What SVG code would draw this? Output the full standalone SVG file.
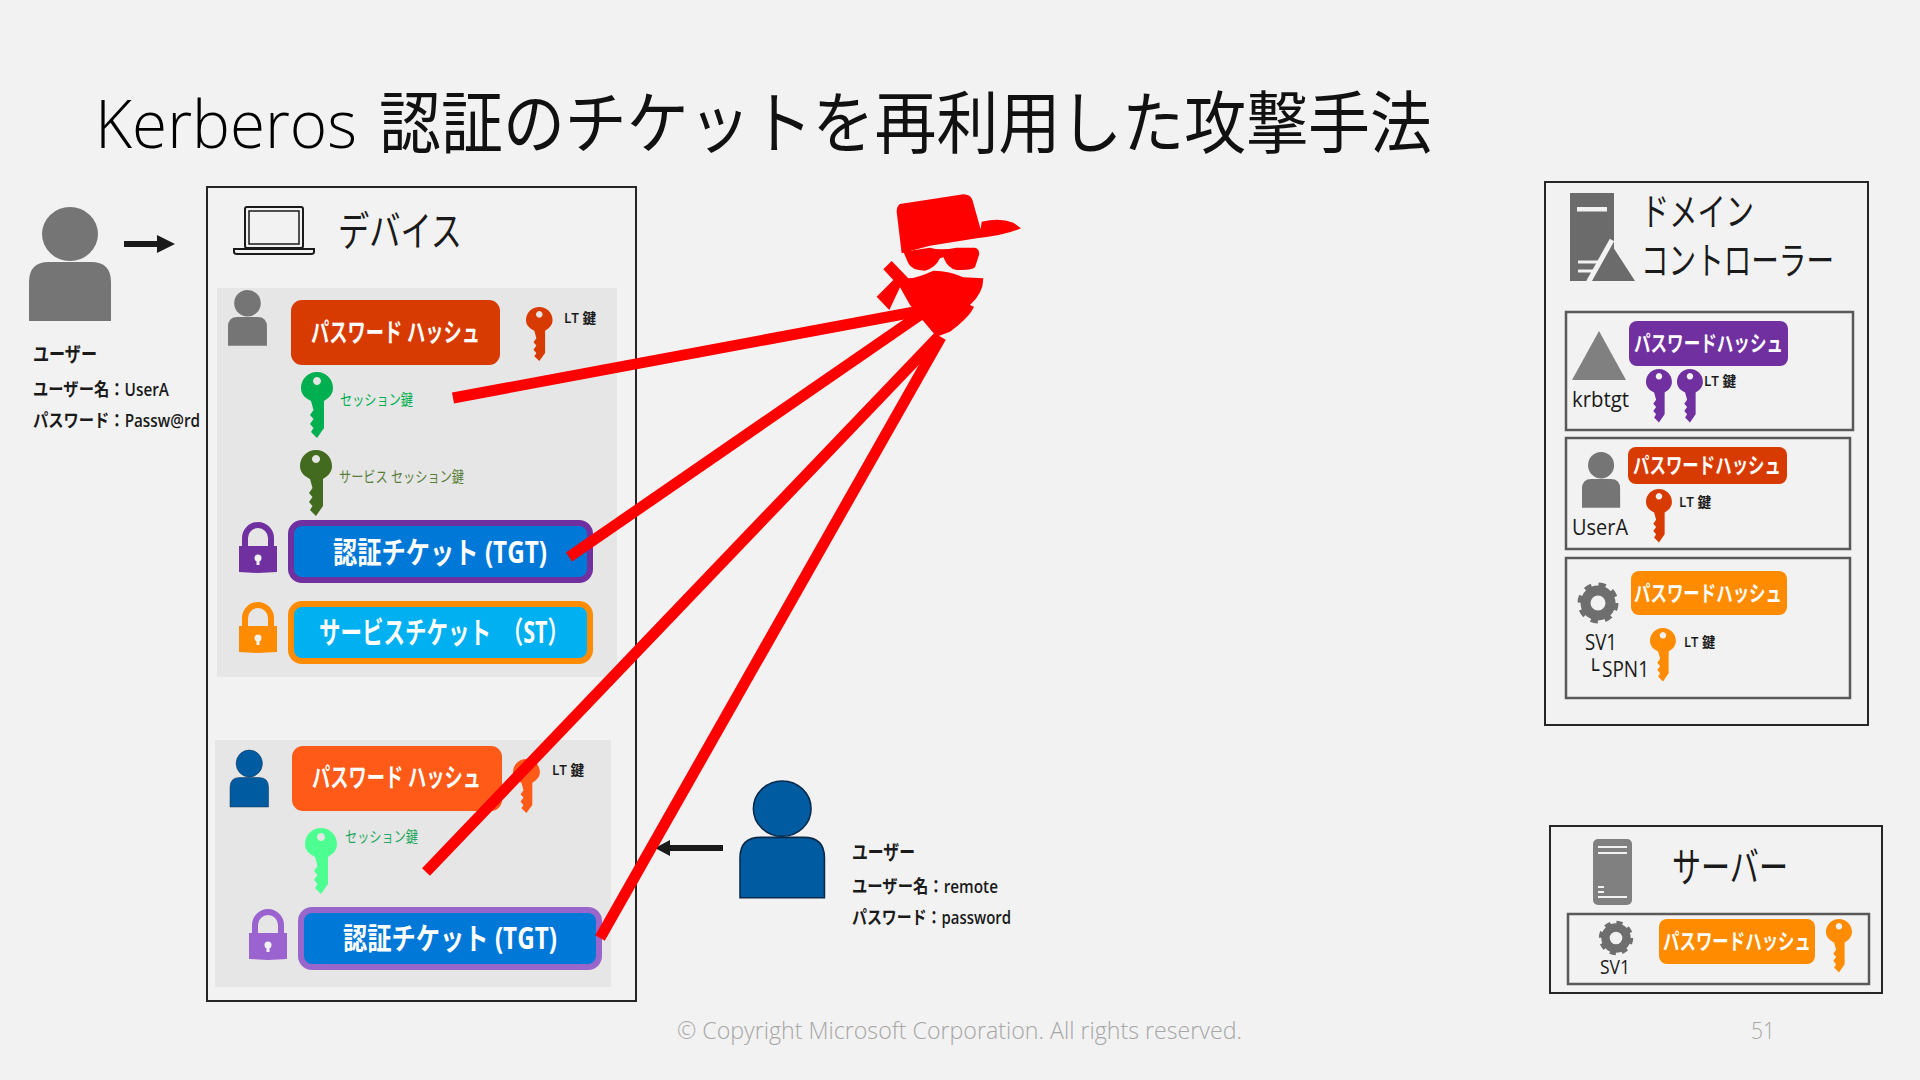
<svg xmlns="http://www.w3.org/2000/svg" width="1920" height="1080" viewBox="0 0 1920 1080">
<style>
text{font-family:"Open Sans","Noto Sans CJK JP",sans-serif;fill:#1a1a1a}
.title{font-size:66px;font-weight:400;fill:#111}
.head{font-size:41px;font-weight:400}
.head2{font-size:38px;font-weight:400}
.b{font-weight:700;font-size:20px}
.m{font-size:18px;font-weight:600}
.lt{font-size:14px;font-weight:600}
.sess{font-size:15px}
.hash{font-size:26px;font-weight:700;fill:#fff}
.hash2{font-size:22px;font-weight:700;fill:#fff}
.tick{font-size:30px;font-weight:700;fill:#fff}
.lbl{font-size:22px}
.foot{font-size:24px;fill:#a6a6a6;font-weight:300}
.box{fill:none;stroke:#262626;stroke-width:2}
.sub{fill:none;stroke:#595959;stroke-width:2.5}
.panel{fill:#e6e6e6}
.red{stroke:#f00;stroke-width:11;fill:none}
.arr{stroke:#1a1a1a;stroke-width:6;fill:none}
</style>
<defs>
<path id="key" fill-rule="evenodd" d="M16 0C25 0 32 7 32 16C32 22 28 26 23 29L23 56L16 66L10 60L12.500 56L9 52L12.500 47L9 43L12.500 38L10 29C4 26 0 22 0 16C0 7 7 0 16 0ZM16 5a4 4 0 1 0 .01 0Z"/>
<g id="person"><ellipse cx="41" cy="27" rx="28" ry="27"/><path d="M0 114V75Q0 55 20 55H62Q82 55 82 75V114Z"/></g>
<g id="lock"><path d="M6 25V15A13 13 0 0 1 32 15V25" fill="none" stroke-width="6" stroke="currentColor"/><path d="M0 23H38V49L19 50L0 49Z" fill="currentColor"/><circle cx="19" cy="35" r="3.500" fill="#f2f2f2"/><rect x="17.500" y="36" width="3" height="6" fill="#f2f2f2"/></g>
<g id="gear" fill="none" stroke="#6e6e6e"><circle r="12.500" stroke-width="10"/><circle r="18" stroke-width="5" stroke-dasharray="7.070 7.070"/></g>
</defs>
<rect width="1920" height="1080" fill="#f2f2f2"/>
<text class="title" x="95" y="148" textLength="262" lengthAdjust="spacingAndGlyphs" style="font-weight:300;fill:#000">Kerberos</text>
<text class="title" x="379" y="148" textLength="1053" lengthAdjust="spacingAndGlyphs" style="font-size:68px">認証のチケットを再利用した攻撃手法</text>

<g id="user-a">
<use href="#person" x="29" y="207" fill="#757575"/>
<text class="b" x="33" y="362" textLength="64" lengthAdjust="spacingAndGlyphs">ユーザー</text>
<text class="m" x="33" y="396" textLength="136" lengthAdjust="spacingAndGlyphs">ユーザー名：UserA</text>
<text class="m" x="33" y="427" textLength="167" lengthAdjust="spacingAndGlyphs">パスワード：Passw@rd</text>
</g>

<g id="device">
<rect class="box" x="207" y="187" width="429" height="814"/>
<g id="laptop" fill="none" stroke="#1a1a1a" stroke-width="2"><rect x="245" y="207" width="58" height="41" rx="2"/><rect x="249" y="211" width="50" height="33" stroke-width="1.500"/><path d="M234 249H314V252Q314 254 311 254H237Q234 254 234 252Z" fill="#f2f2f2"/></g>
<text class="head" x="338" y="246" textLength="124" lengthAdjust="spacingAndGlyphs">デバイス</text>
</g>

<g id="session-a">
<rect class="panel" x="217" y="288" width="400" height="389"/>
<use href="#person" transform="translate(228 290) scale(.475 .49)" fill="#757575"/>
<rect x="291" y="300" width="209" height="65" rx="11" fill="#d83b01"/>
<text class="hash" x="311" y="342" textLength="169" lengthAdjust="spacingAndGlyphs">パスワード ハッシュ</text>
<use href="#key" transform="translate(526 307) scale(.83 .82)" fill="#d83b01"/>
<text class="lt" x="564" y="323" textLength="32" lengthAdjust="spacingAndGlyphs">LT 鍵</text>
<use href="#key" x="301" y="372" fill="#00b050"/>
<text class="sess" x="340" y="405" textLength="73" lengthAdjust="spacingAndGlyphs" style="fill:#00b050">セッション鍵</text>
<use href="#key" transform="translate(300 450)" fill="#426b1f"/>
<text class="sess" x="339" y="482" textLength="125" lengthAdjust="spacingAndGlyphs" style="fill:#5b7f3b">サービス セッション鍵</text>
<use href="#lock" x="239" y="523" color="#7030a0"/>
<rect x="291" y="523" width="299" height="57" rx="11" fill="#0078d7" stroke="#7030a0" stroke-width="6"/>
<text class="tick" x="333" y="563" textLength="214" lengthAdjust="spacingAndGlyphs">認証チケット (TGT)</text>
<use href="#lock" x="239" y="603" color="#ff8c00"/>
<rect x="291" y="604" width="299" height="57" rx="11" fill="#00b0f0" stroke="#ff8c00" stroke-width="6"/>
<text class="tick" x="319" y="643" textLength="250" lengthAdjust="spacingAndGlyphs">サービスチケット　（ST）</text>
</g>

<g id="session-b">
<rect class="panel" x="215" y="740" width="396" height="247"/>
<use href="#person" transform="translate(230 750) scale(.47 .5)" fill="#005ba1" stroke="#0a2a4a"/>
<use href="#key" transform="translate(513 759) scale(.84 .82)" fill="#ff5a17"/>
<rect x="292" y="746" width="210" height="65" rx="11" fill="#ff5a17"/>
<text class="hash" x="312" y="787" textLength="169" lengthAdjust="spacingAndGlyphs">パスワード ハッシュ</text>
<text class="lt" x="552" y="775" textLength="32" lengthAdjust="spacingAndGlyphs">LT 鍵</text>
<use href="#key" x="305" y="828" fill="#4dff91"/>
<text class="sess" x="345" y="842" textLength="73" lengthAdjust="spacingAndGlyphs" style="fill:#1fa860">セッション鍵</text>
<use href="#lock" x="249" y="910" color="#9b63d0"/>
<rect x="301" y="910" width="298" height="57" rx="11" fill="#0078d7" stroke="#9966cc" stroke-width="6"/>
<text class="tick" x="343" y="949" textLength="214" lengthAdjust="spacingAndGlyphs">認証チケット (TGT)</text>
</g>

<g id="user-remote">
<use href="#person" transform="translate(740 781) scale(1.03 1.025)" fill="#005ba1" stroke="#0a2a4a" stroke-width="1.500"/>
<text class="b" x="852" y="860" textLength="63" lengthAdjust="spacingAndGlyphs">ユーザー</text>
<text class="m" x="852" y="893" textLength="146" lengthAdjust="spacingAndGlyphs">ユーザー名：remote</text>
<text class="m" x="852" y="924" textLength="159" lengthAdjust="spacingAndGlyphs">パスワード：password</text>
</g>

<g id="attacker" transform="translate(850 180) scale(.3333)" fill="#f00">
<path d="M150 72L340 43Q362 43 368 62L392 148L395 125Q450 112 490 128L513 145Q470 165 380 175L240 197L155 220L140 95Q140 78 150 72Z"/>
<path d="M160 215L240 203Q270 212 320 203L375 203Q390 207 387 225L375 262Q365 272 320 270Q295 268 280 232L270 235Q255 265 225 272Q185 272 175 250Z"/>
<path d="M175 295Q200 295 250 272Q300 272 340 292L400 295Q400 340 360 375L372 380Q360 410 300 455L260 470L200 400L180 375L150 322L118 390L80 350L130 300L100 268L125 243Z"/>
</g>

<g id="domain-controller">
<rect class="box" x="1545" y="182" width="323" height="543"/>
<g id="dc-icon"><rect x="1570" y="193" width="44" height="88" fill="#6b6b6b"/><rect x="1577" y="207" width="30" height="4.500" fill="#f2f2f2"/><path d="M1578 262H1600M1578 271H1594" stroke="#f2f2f2" stroke-width="3"/><path d="M1612 240L1588 283" stroke="#f2f2f2" stroke-width="5"/><path d="M1613 247L1635 281H1594Z" fill="#6b6b6b"/></g>
<text class="head2" x="1641" y="225" textLength="113" lengthAdjust="spacingAndGlyphs">ドメイン</text>
<text class="head2" x="1641" y="274" textLength="193" lengthAdjust="spacingAndGlyphs">コントローラー</text>
</g>

<g id="account-krbtgt">
<rect class="sub" x="1566" y="312" width="287" height="118"/>
<path d="M1599 331L1626 380H1572Z" fill="#808080"/>
<text class="lbl" x="1572" y="407" textLength="57" lengthAdjust="spacingAndGlyphs">krbtgt</text>
<rect x="1629" y="321" width="159" height="45" rx="8" fill="#7030a0"/>
<text class="hash2" x="1634" y="351" textLength="149" lengthAdjust="spacingAndGlyphs">パスワードハッシュ</text>
<use href="#key" transform="translate(1646 369) scale(.81)" fill="#7030a0"/>
<use href="#key" transform="translate(1677 369) scale(.81)" fill="#7030a0"/>
<text class="lt" x="1704" y="386" textLength="32" lengthAdjust="spacingAndGlyphs">LT 鍵</text>
</g>

<g id="account-usera">
<rect class="sub" x="1566" y="438" width="284" height="111"/>
<use href="#person" transform="translate(1582 452) scale(.465 .49)" fill="#757575"/>
<text class="lbl" x="1572" y="535" textLength="56" lengthAdjust="spacingAndGlyphs">UserA</text>
<rect x="1628" y="447" width="159" height="37" rx="8" fill="#d83b01"/>
<text class="hash2" x="1633" y="473" textLength="148" lengthAdjust="spacingAndGlyphs">パスワードハッシュ</text>
<use href="#key" transform="translate(1646 489) scale(.81)" fill="#d83b01"/>
<text class="lt" x="1679" y="507" textLength="32" lengthAdjust="spacingAndGlyphs">LT 鍵</text>
</g>

<g id="account-sv1">
<rect class="sub" x="1566" y="558" width="284" height="140"/>
<use href="#gear" transform="translate(1598 603)"/>
<rect x="1631" y="571" width="156" height="44" rx="8" fill="#ff8c00"/>
<text class="hash2" x="1634" y="601" textLength="148" lengthAdjust="spacingAndGlyphs">パスワードハッシュ</text>
<text class="lbl" x="1585" y="650" textLength="32" lengthAdjust="spacingAndGlyphs">SV1</text>
<text class="lbl" x="1587" y="677"><tspan style="font-family:'DejaVu Sans',sans-serif;font-size:20px">└</tspan><tspan x="1602" textLength="47" lengthAdjust="spacingAndGlyphs">SPN1</tspan></text>
<use href="#key" transform="translate(1650 628) scale(.81)" fill="#ff8c00"/>
<text class="lt" x="1684" y="647" textLength="31" lengthAdjust="spacingAndGlyphs">LT 鍵</text>
</g>

<g id="server">
<rect class="box" x="1550" y="826" width="332" height="167"/>
<rect x="1593" y="839" width="39" height="66" rx="5" fill="#808080"/>
<path d="M1598 847H1627M1598 853H1627M1598 897H1627M1598 887H1604M1598 892H1604" stroke="#f2f2f2" stroke-width="2"/>
<text class="head" x="1672" y="882" textLength="116" lengthAdjust="spacingAndGlyphs">サーバー</text>
<rect class="sub" x="1568" y="914" width="301" height="70"/>
<use href="#gear" transform="translate(1616 938) scale(.84)"/>
<text class="lbl" x="1600" y="974" textLength="30" lengthAdjust="spacingAndGlyphs" style="font-size:20px">SV1</text>
<rect x="1659" y="919" width="156" height="45" rx="8" fill="#ff8c00"/>
<text class="hash2" x="1663" y="949" textLength="148" lengthAdjust="spacingAndGlyphs">パスワードハッシュ</text>
<use href="#key" transform="translate(1826 919) scale(.81)" fill="#ff8c00"/>
</g>

<g id="connectors">
<path class="arr" d="M124 244H160"/><path d="M157 235L175 244L157 253Z" fill="#1a1a1a"/>
<path class="arr" d="M723 848H668"/><path d="M670 840L655 848L670 856Z" fill="#1a1a1a"/>
<path class="red" d="M453 398L925 310"/>
<path class="red" d="M569 557L930 308"/>
<path class="red" d="M426 872L938 337"/>
<path class="red" d="M600 938L941 337"/>
</g>

<g id="footer">
<text class="foot" x="677" y="1039" textLength="565" lengthAdjust="spacingAndGlyphs">© Copyright Microsoft Corporation. All rights reserved.</text>
<text class="foot" x="1751" y="1039" textLength="24" lengthAdjust="spacingAndGlyphs">51</text>
</g>
</svg>
